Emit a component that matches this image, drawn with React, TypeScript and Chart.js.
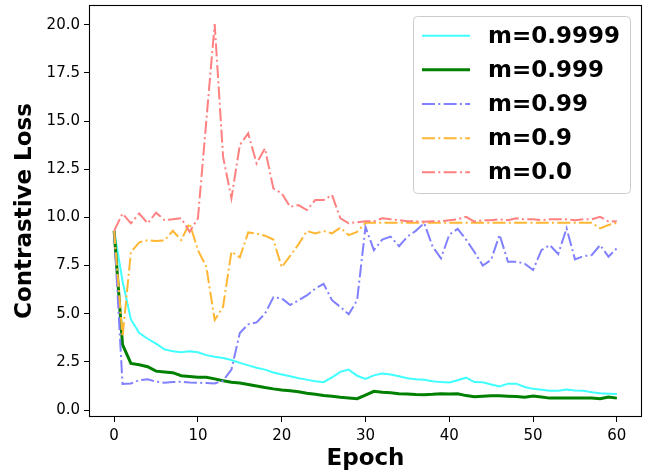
import React, { useEffect, useRef } from "react";
import { Chart, registerables } from "chart.js";

Chart.register(...registerables);

const epochs = [
  0, 1, 2, 3, 4, 5, 6, 7, 8, 9, 10, 11, 12, 13, 14, 15, 16, 17, 18, 19, 20,
  21, 22, 23, 24, 25, 26, 27, 28, 29, 30, 31, 32, 33, 34, 35, 36, 37, 38, 39, 40,
  41, 42, 43, 44, 45, 46, 47, 48, 49, 50, 51, 52, 53, 54, 55, 56, 57, 58, 59, 60,
];

const m9999 = [
  9.3, 6.7, 4.7, 4.0, 3.7, 3.45, 3.15, 3.05, 3.0, 3.05, 3.0,
  2.85, 2.77, 2.7, 2.6, 2.45, 2.32, 2.2, 2.1, 1.95, 1.85,
  1.75, 1.65, 1.58, 1.5, 1.45, 1.7, 1.98, 2.1, 1.78, 1.62,
  1.8, 1.9, 1.85, 1.75, 1.65, 1.6, 1.57, 1.5, 1.45, 1.43,
  1.55, 1.68, 1.45, 1.44, 1.33, 1.22, 1.37, 1.37, 1.2, 1.1,
  1.05, 1.0, 1.0, 1.07, 1.02, 1.0, 0.92, 0.87, 0.85, 0.83,
];

const m999 = [
  9.3, 3.4, 2.42, 2.35, 2.25, 2.02, 1.98, 1.94, 1.78, 1.74, 1.7,
  1.7, 1.62, 1.52, 1.44, 1.4, 1.33, 1.25, 1.17, 1.1, 1.04,
  1.0, 0.95, 0.87, 0.82, 0.76, 0.72, 0.66, 0.63, 0.59, 0.78,
  0.97, 0.93, 0.9, 0.85, 0.83, 0.81, 0.8, 0.82, 0.85, 0.83,
  0.85, 0.75, 0.69, 0.72, 0.74, 0.74, 0.72, 0.7, 0.66, 0.73,
  0.68, 0.62, 0.63, 0.62, 0.62, 0.63, 0.62, 0.59, 0.68, 0.62,
];

const m99 = [
  9.3, 1.35, 1.38, 1.55, 1.6, 1.47, 1.42, 1.45, 1.47, 1.43, 1.42,
  1.4, 1.38, 1.52, 2.1, 4.0, 4.45, 4.55, 5.0, 5.85, 5.8,
  5.45, 5.7, 5.95, 6.3, 6.55, 5.7, 5.35, 4.97, 5.7, 9.5,
  8.3, 8.85, 9.0, 8.5, 9.0, 9.3, 9.7, 8.5, 7.87, 9.1,
  9.4, 8.85, 8.2, 7.5, 7.8, 9.1, 7.7, 7.7, 7.6, 7.27,
  8.3, 8.56, 8.1, 9.43, 7.82, 7.99, 8.04, 8.56, 7.96, 8.4,
];

const m9 = [
  9.3, 3.8, 8.2, 8.7, 8.82, 8.77, 8.8, 9.3, 8.82, 9.69, 8.3,
  7.44, 4.67, 5.36, 8.22, 7.92, 9.22, 9.15, 9.05, 8.85, 7.41,
  8.0, 8.6, 9.29, 9.17, 9.29, 9.17, 9.46, 9.08, 9.25, 9.72,
  9.72, 9.72, 9.72, 9.72, 9.72, 9.72, 9.72, 9.72, 9.72, 9.72,
  9.72, 9.72, 9.72, 9.72, 9.72, 9.72, 9.72, 9.72, 9.72, 9.72,
  9.72, 9.72, 9.72, 9.72, 9.72, 9.72, 9.72, 9.43, 9.6, 9.72,
];

const m0 = [
  9.3, 10.2, 9.69, 10.2, 9.69, 10.24, 9.86, 9.9, 9.95, 9.25, 9.95,
  15.0, 20.03, 13.15, 10.99, 13.75, 14.36, 12.8, 13.58, 11.5, 11.25,
  10.55, 10.64, 10.38, 10.9, 10.9, 11.16, 9.95, 9.69, 9.75, 9.8,
  9.8, 9.95, 9.9, 9.85, 9.8, 9.8, 9.77, 9.8, 9.8, 9.85,
  9.9, 10.03, 9.78, 9.85, 9.85, 9.9, 9.85, 9.95, 9.9, 9.9,
  9.85, 9.9, 9.9, 9.9, 9.85, 9.9, 9.9, 10.03, 9.78, 9.8,
];

const seriesLabels = ["m=0.9999", "m=0.999", "m=0.99", "m=0.9", "m=0.0"];
const xTicks = [0, 10, 20, 30, 40, 50, 60];
const yTicks = [0, 2.5, 5, 7.5, 10, 12.5, 15, 17.5, 20];
const xTitle = "Epoch";
const yTitle = "Contrastive Loss";

const FONT = "'DejaVu Sans', sans-serif";
const DASHDOT = [13, 3.3, 2, 3.3];

const framePlugin = {
  id: "frameAndLegend",
  afterDatasetsDraw(chart: any) {
    const { ctx, chartArea: a } = chart;
    ctx.save();
    ctx.strokeStyle = "#000";
    ctx.lineWidth = 1.1;
    ctx.strokeRect(a.left + 0.5, a.top + 0.5, a.right - a.left - 1, a.bottom - a.top - 1);
    ctx.restore();
  },
  afterDraw(chart: any) {
    const { ctx } = chart;
    const bx = 413.5, by = 16.5, bw = 217, bh = 177, r = 4;
    ctx.save();
    ctx.beginPath();
    ctx.moveTo(bx + r, by);
    ctx.lineTo(bx + bw - r, by);
    ctx.quadraticCurveTo(bx + bw, by, bx + bw, by + r);
    ctx.lineTo(bx + bw, by + bh - r);
    ctx.quadraticCurveTo(bx + bw, by + bh, bx + bw - r, by + bh);
    ctx.lineTo(bx + r, by + bh);
    ctx.quadraticCurveTo(bx, by + bh, bx, by + bh - r);
    ctx.lineTo(bx, by + r);
    ctx.quadraticCurveTo(bx, by, bx + r, by);
    ctx.closePath();
    ctx.fillStyle = "rgba(255,255,255,0.85)";
    ctx.fill();
    ctx.strokeStyle = "#cccccc";
    ctx.lineWidth = 1;
    ctx.stroke();
    const rowY0 = 35.7;
    const rowStep = 34.15;
    chart.data.datasets.forEach((ds: any, i: number) => {
      const y = rowY0 + i * rowStep;
      ctx.beginPath();
      ctx.strokeStyle = ds.borderColor;
      ctx.lineWidth = ds.borderWidth;
      ctx.setLineDash(ds.borderDash || []);
      ctx.moveTo(422, y);
      ctx.lineTo(470, y);
      ctx.stroke();
      ctx.setLineDash([]);
      ctx.fillStyle = "#000";
      ctx.font = `bold 23px ${FONT}`;
      ctx.textBaseline = "middle";
      ctx.textAlign = "left";
      ctx.fillText(ds.label, 488, y + 1);
    });
    ctx.restore();
  },
};

export default function App() {
  const ref = useRef<HTMLCanvasElement | null>(null);

  useEffect(() => {
    if (!ref.current) return;
    const mk = (vals: number[]) => vals.map((v, i) => ({ x: epochs[i], y: v }));
    const chart = new Chart(ref.current, {
      type: "line",
      data: {
        datasets: [
          { label: seriesLabels[0], data: mk(m9999), borderColor: "#40ffff", borderWidth: 2, order: 5 },
          { label: seriesLabels[1], data: mk(m999), borderColor: "#008000", borderWidth: 3, order: 4 },
          { label: seriesLabels[2], data: mk(m99), borderColor: "#8080ff", borderWidth: 2, borderDash: DASHDOT, order: 3 },
          { label: seriesLabels[3], data: mk(m9), borderColor: "#ffb733", borderWidth: 2, borderDash: DASHDOT, order: 2 },
          { label: seriesLabels[4], data: mk(m0), borderColor: "#ff8080", borderWidth: 2, borderDash: DASHDOT, order: 1 },
        ].map((d) => ({ ...d, pointRadius: 0, tension: 0, fill: false })),
      },
      options: {
        animation: false,
        responsive: false,
        maintainAspectRatio: false,
        layout: { padding: { left: 0, top: 5, right: 12, bottom: 0 } },
        plugins: { legend: { display: false }, tooltip: { enabled: false } },
        scales: {
          x: {
            type: "linear",
            min: -3,
            max: 63,
            afterFit: (s: any) => { s.height = 57; s.paddingLeft = 0; s.paddingRight = 0; },
            afterBuildTicks: (s: any) => { s.ticks = xTicks.map((v) => ({ value: v })); },
            grid: { drawOnChartArea: false, drawTicks: true, tickLength: 5, color: "#000", lineWidth: 1 },
            border: { display: false },
            ticks: { color: "#000", font: { family: FONT, size: 15 }, padding: 5, maxRotation: 0, callback: (v: any) => String(v) },
            title: { display: true, text: xTitle, color: "#000", font: { family: FONT, size: 23, weight: "bold" }, padding: { top: 0, bottom: 1 } },
          },
          y: {
            type: "linear",
            min: -0.36,
            max: 21.02,
            afterFit: (s: any) => { s.width = 89; s.paddingTop = 0; s.paddingBottom = 0; },
            afterBuildTicks: (s: any) => { s.ticks = yTicks.map((v) => ({ value: v })); },
            grid: { drawOnChartArea: false, drawTicks: true, tickLength: 5, color: "#000", lineWidth: 1 },
            border: { display: false },
            ticks: { color: "#000", font: { family: FONT, size: 15 }, padding: 4, callback: (v: any) => Number(v).toFixed(1) },
            title: { display: true, text: yTitle, color: "#000", font: { family: FONT, size: 23, weight: "bold" }, padding: { top: 11, bottom: 0 } },
          },
        },
      },
      plugins: [framePlugin],
    });
    return () => chart.destroy();
  }, []);

  return (
    <div style={{ position: "absolute", left: 0, top: 0, width: 654, height: 474, background: "#fff" }}>
      <canvas ref={ref} width={654} height={474} />
    </div>
  );
}
